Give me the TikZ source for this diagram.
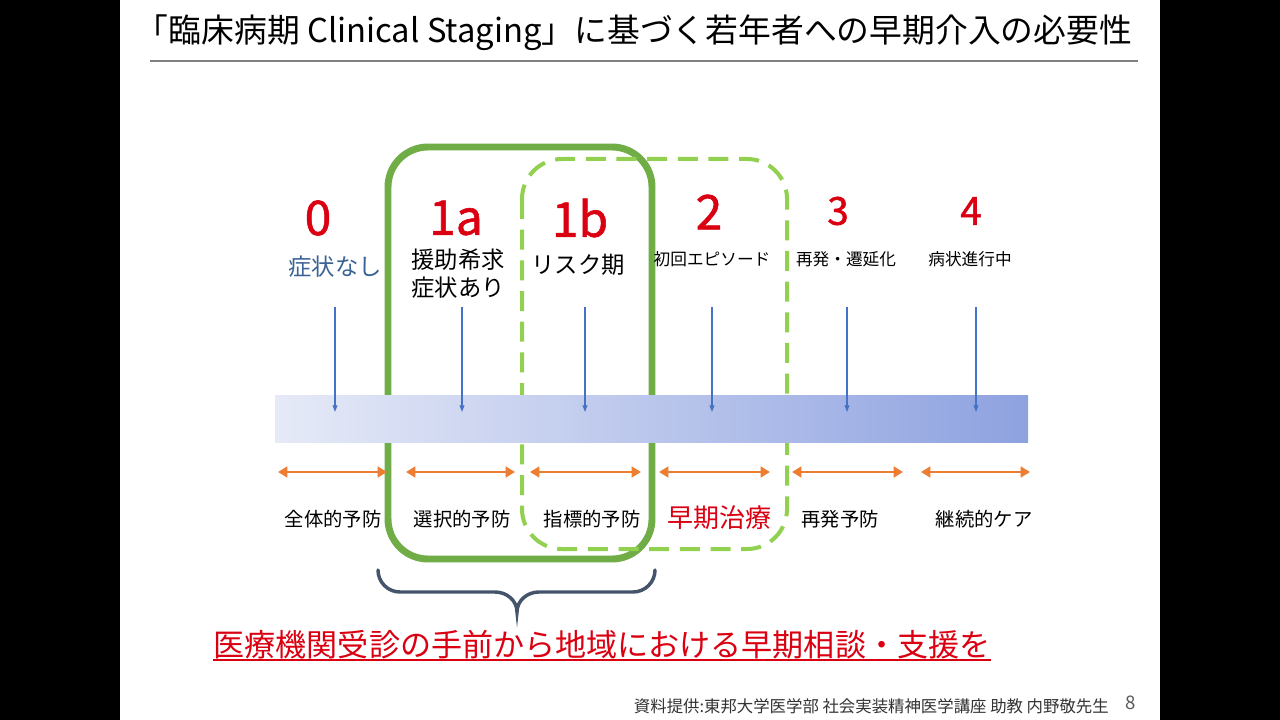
\documentclass[tikz,border=0pt]{standalone}
\usepackage{fontspec}
\setmainfont{Noto Sans CJK JP}
\newfontfamily\stagefont{Noto Sans CJK JP}[FakeBold=1.2]
\usepackage{tikz}
\usetikzlibrary{arrows.meta,positioning}
\definecolor{stagered}{RGB}{218,0,18}
\definecolor{calmblue}{RGB}{58,98,148}
\definecolor{pointblue}{RGB}{68,114,196}
\definecolor{spanorange}{RGB}{237,125,49}
\definecolor{boxgreen}{RGB}{112,173,71}
\definecolor{dashgreen}{RGB}{146,208,80}
\definecolor{bracegray}{RGB}{68,84,106}
\definecolor{barlight}{RGB}{230,234,247}
\definecolor{bardark}{RGB}{142,162,224}

\begin{document}
\begin{tikzpicture}[x=0.75pt, y=-0.75pt,
	stagenum/.style={text=stagered, inner sep=0pt, font=\stagefont\fontsize{36}{40}\selectfont},
	stagesmall/.style={text=stagered, inner sep=0pt, font=\stagefont\fontsize{29}{32}\selectfont},
	bigname/.style={inner sep=0pt, font=\fontsize{17.5}{21}\selectfont},
	smallname/.style={inner sep=0pt, font=\fontsize{12.5}{15}\selectfont},
	careword/.style={inner sep=0pt, font=\fontsize{14.5}{17}\selectfont},
	pointer/.style={pointblue, line width=0.9pt, -{Triangle[length=5pt,width=3.6pt]}},
	span/.style={spanorange, line width=2.2pt, {Triangle[length=7pt,width=8pt]}-{Triangle[length=7pt,width=8pt]}}]

	% slide frame
	\useasboundingbox (0,0) rectangle (1280,720);
	\fill[black] (0,0) rectangle (1280,720);
	\fill[white] (120,0) rectangle (1160,720);

	% title
	\node[inner sep=0pt, font=\fontsize{24.6}{28}\selectfont] (title) at (634,33)
		{「臨床病期 Clinical Staging」に基づく若年者への早期介入の必要性};
	\draw[gray, line width=0.9pt] (150,61) -- (1138,61);

	% the two groups
	\draw[boxgreen, line width=5.2pt, rounded corners=30pt] (388,147) rectangle (652,559);
	\draw[dashgreen, line width=3pt, dash pattern=on 15pt off 8pt, rounded corners=30pt] (522,159) rectangle (787,549);

	% the bar
	\shade[left color=barlight, right color=bardark] (275,395) rectangle (1028,442);

	\path
	(335,307) coordinate (p0) (335,412) coordinate (q0)
	(462,307) coordinate (p1) (462,412) coordinate (q1)
	(585,307) coordinate (p2) (585,412) coordinate (q2)
	(712,307) coordinate (p3) (712,412) coordinate (q3)
	(847,307) coordinate (p4) (847,412) coordinate (q4)
	(976,307) coordinate (p5) (976,412) coordinate (q5)
	;

	\path
	(278,472) coordinate (s0) (387,472) coordinate (t0)
	(406,472) coordinate (s1) (515,472) coordinate (t1)
	(530,472) coordinate (s2) (641,472) coordinate (t2)
	(659,472) coordinate (s3) (770,472) coordinate (t3)
	(792,472) coordinate (s4) (903,472) coordinate (t4)
	(921,472) coordinate (s5) (1030,472) coordinate (t5)
	;

	% stages
	\node[stagenum] (st0) at (318,218) {0};
	\node[stagenum] (st1a) at (456,218) {1a};
	\node[stagenum] (st1b) at (580,218) {1b};
	\node[stagenum] (st2) at (709,212) {2};
	\node[stagesmall] (st3) at (838,211) {3};
	\node[stagesmall] (st4) at (971,211) {4};

	\node[bigname, text=calmblue] (none) at (335,267) {症状なし};
	\node[bigname, align=center, font=\fontsize{17.5}{21}\selectfont] (help) at (458,274) {援助希求\\症状あり};
	\node[bigname] (risk) at (578,265) {リスク期};
	\node[smallname] (first) at (712,259) {初回エピソード};
	\node[smallname] (relapse) at (846,259) {再発・遷延化};
	\node[smallname] (ongoing) at (970,259) {病状進行中};

	\draw[pointer] (p0) -- (q0);
	\draw[pointer] (p1) -- (q1);
	\draw[pointer] (p2) -- (q2);
	\draw[pointer] (p3) -- (q3);
	\draw[pointer] (p4) -- (q4);
	\draw[pointer] (p5) -- (q5);

	\draw[span] (s0) -- (t0);
	\draw[span] (s1) -- (t1);
	\draw[span] (s2) -- (t2);
	\draw[span] (s3) -- (t3);
	\draw[span] (s4) -- (t4);
	\draw[span] (s5) -- (t5);

	% care words
	\node[careword] (universal) at (333,519) {全体的予防};
	\node[careword] (selective) at (462,519) {選択的予防};
	\node[careword] (indicated) at (592,519) {指標的予防};
	\node[inner sep=0pt, text=stagered, font=\fontsize{19.5}{22}\selectfont] (early) at (719,518) {早期治療};
	\node[careword] (prevent) at (840,519) {再発予防};
	\node[careword] (continuing) at (984,519) {継続的ケア};

	% brace
	\draw[bracegray, line width=2.6pt, line cap=round]
		(378,570) to[out=-90, in=180] (400,592) -- (495,592) to[out=0, in=90] (517,612)
		to[out=90, in=180] (539,592) -- (633,592) to[out=0, in=-90] (655,570);

	\node[inner sep=0pt, text=stagered, font=\fontsize{23.3}{27}\selectfont] (note) at (602,645)
		{医療機関受診の手前から地域における早期相談・支援を};
	\draw[stagered, line width=1.3pt] (note.south west) -- (note.south east);

	% footer
	\node[inner sep=0pt, anchor=east, text=black!80, font=\fontsize{12.3}{14}\selectfont] (credit) at (1109,706)
		{資料提供:東邦大学医学部 社会実装精神医学講座 助教 内野敬先生};
	\node[inner sep=0pt, text=black!65, font=\fontsize{14}{16}\selectfont] (pagenum) at (1131,703) {8};

\end{tikzpicture}
\end{document}
